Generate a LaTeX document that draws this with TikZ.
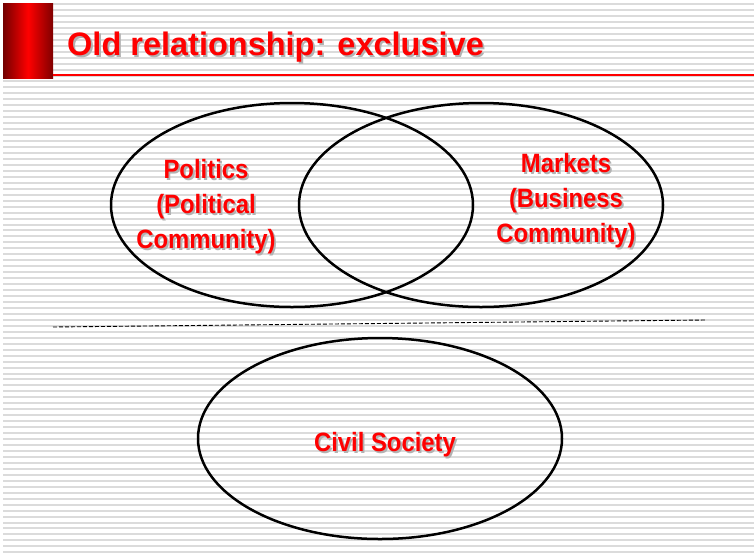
\documentclass[tikz,border=0pt]{standalone}
\usepackage{fontspec}
\setmainfont{Liberation Sans}
\newfontfamily\narrowfont{Liberation Sans}[FakeStretch=0.9]
% gray drop shadow behind a line of text
\newcommand{\shadowed}[1]{\rlap{\hspace{1.8pt}\raisebox{-1.8pt}{\color{black!30}#1}}#1}
\tikzset{stripe/.style = {draw=black!14, line width=2pt}}
\tikzset{oval/.style = {draw, line width=2.5pt}}
\tikzset{redtext/.style = {text=red, font=\narrowfont\bfseries\fontsize{26.5}{35}\selectfont, align=center, inner sep=0}}
\tikzset{titletext/.style = {text=red, font=\bfseries\fontsize{32.5}{39}\selectfont, inner sep=0, anchor=base west}}

\begin{document}
\begin{tikzpicture}[x=1pt, y=-1pt]
    \useasboundingbox (0, 0) rectangle (754, 558);
    \fill[white] (0, 0) rectangle (754, 558);

    % Background lines
    \foreach \k in {0,...,92}
        \draw[stripe] (3, {4+5.96*\k}) -- (754, {4+5.96*\k});

    % Title bar
    \shade[left color=red!45!black, right color=red!50!black, middle color=red] (3, 3) rectangle (53, 78);
    \draw[red, line width=2.5pt] (53, 75) -- (754, 75);
    \node[titletext] (title) at (67, 55.5) {\shadowed{Old relationship: exclusive}};

    % Politics and markets
    \draw[oval] (292, 205) ellipse [x radius=181, y radius=102];
    \draw[oval] (481, 205) ellipse [x radius=182, y radius=102];
    \node[redtext] (pol) at (206, 207.5) {\shadowed{Politics}\\\shadowed{(Political}\\\shadowed{Community)}};
    \node[redtext] (mkt) at (566, 201.5) {\shadowed{Markets}\\\shadowed{(Business}\\\shadowed{Community)}};

    % Divider
    \draw[dash pattern=on 4pt off 2pt, line width=0.9pt] (53, 327) -- (705, 320);

    % Civil society
    \draw[oval] (380, 438.5) ellipse [x radius=182, y radius=100.5];
    \node[redtext] (civ) at (385, 445.5) {\shadowed{Civil Society}};
\end{tikzpicture}
\end{document}
